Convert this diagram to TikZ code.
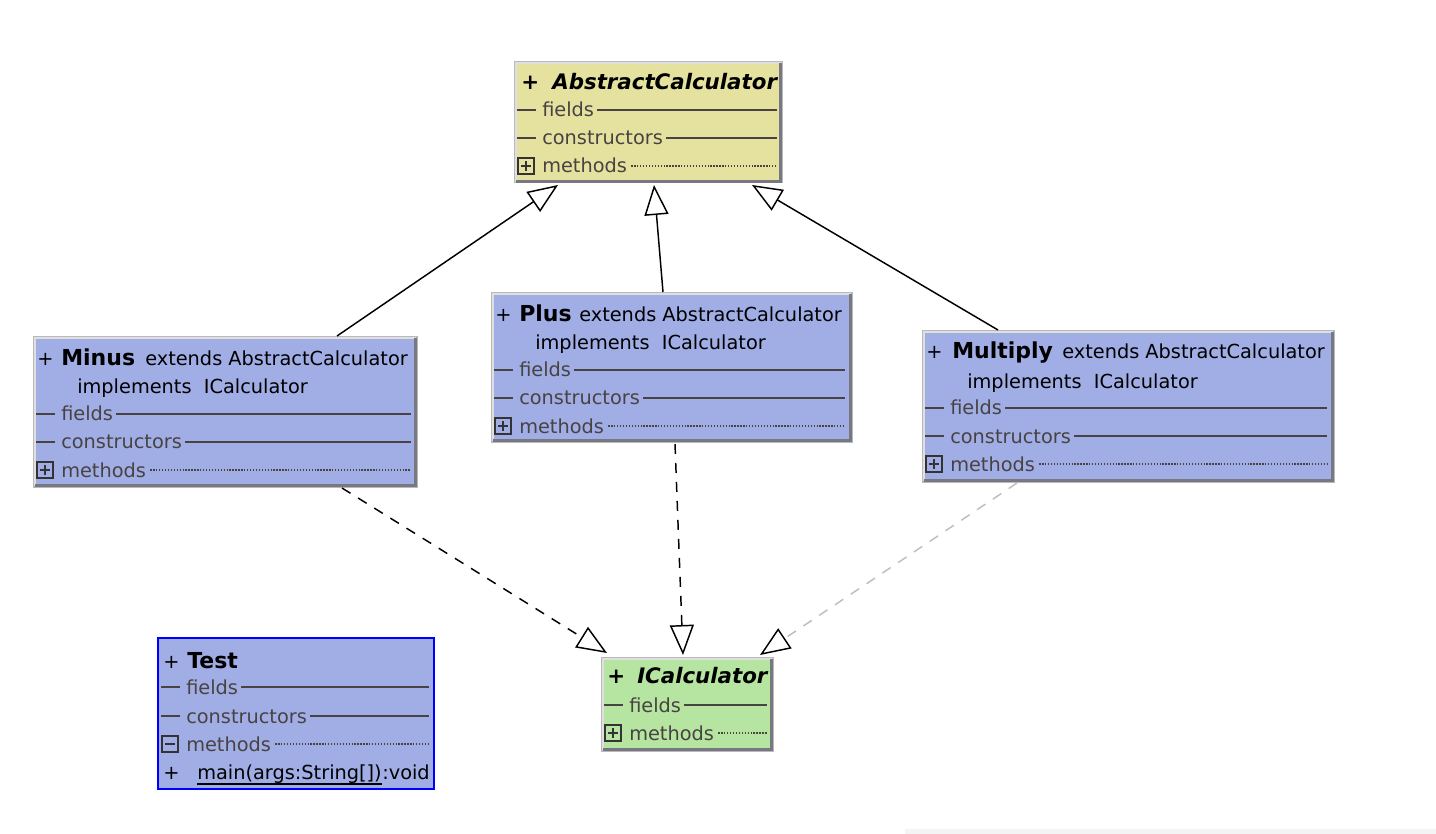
\documentclass[tikz,border=0pt]{standalone}
\usepackage{fontspec}
\setmainfont{DejaVu Sans}
\usetikzlibrary{arrows.meta,fit,calc}
\newdimen\px \px=0.75pt
\definecolor{absfill}{RGB}{229,226,160}
\definecolor{clsfill}{RGB}{160,174,229}
\definecolor{intfill}{RGB}{181,229,160}
\definecolor{rowgray}{RGB}{72,66,66}
\definecolor{lightdash}{RGB}{190,190,190}
\definecolor{edgegray}{RGB}{120,120,130}
\definecolor{floorgray}{RGB}{244,244,244}
\newcommand\seprow[5]{%
  \draw[sep] ({#2+3},#3) -- ({#2+22},#3);
  \node[rowtext] (#1) at ({#2+28},{#3+7}) {#5};
  \draw[sep] ([xshift=3\px,yshift=7\px]#1.base east) -- (#4,#3);
}
\newcommand\methrow[5]{%
  \node[#5] (#1i) at ({#2+12},#3) {};
  \node[rowtext] (#1) at ({#2+28},{#3+7}) {methods};
  \draw[dotsep] ([xshift=4\px,yshift=7\px]#1.base east) -- (#4,#3);
}
\newcommand\umlbox[4]{%
  \node[fit={(#2) (#3)}, inner sep=0pt, outer sep=0pt, fill=#4, draw=gray!55, line width=1\px] (#1) {};
  \draw[draw=white!75!gray, line width=2\px] ([shift={(1.5\px,1.5\px)}]#1.south west) -- ([shift={(1.5\px,-1.5\px)}]#1.north west) -- ([shift={(-1.5\px,-1.5\px)}]#1.north east);
  \draw[draw=edgegray, line width=3\px] ([shift={(-1.5\px,-1.5\px)}]#1.north east) -- ([shift={(-1.5\px,1.5\px)}]#1.south east) -- ([shift={(1.5\px,1.5\px)}]#1.south west);
}
\begin{document}
\begin{tikzpicture}[x=0.75pt,y=-0.75pt,
  rowtext/.style={font=\fontsize{14.5}{16}\selectfont, text=rowgray, inner sep=0pt, anchor=base west},
  plaintext/.style={font=\fontsize{14.5}{16}\selectfont, text=black, inner sep=0pt, anchor=base west},
  nametext/.style={font=\fontsize{16.5}{18}\selectfont\bfseries, text=black, inner sep=0pt, anchor=base west},
  abstext/.style={font=\fontsize{16}{18}\selectfont\bfseries\itshape, text=black, inner sep=0pt, anchor=base west},
  sep/.style={draw=rowgray, line width=1.2pt},
  dotsep/.style={draw=rowgray, line width=1pt, dash pattern=on 1pt off 1.2pt},
  icon/.style={draw=black!80, line width=1.1pt, minimum size=12pt, inner sep=0pt},
  plusicon/.style={icon, path picture={
    \draw[line width=1.3pt] ([xshift=2.4pt]path picture bounding box.west) -- ([xshift=-2.4pt]path picture bounding box.east);
    \draw[line width=1.3pt] ([yshift=-2.4pt]path picture bounding box.north) -- ([yshift=2.4pt]path picture bounding box.south);}},
  minusicon/.style={icon, path picture={
    \draw[line width=1.3pt] ([xshift=2.4pt]path picture bounding box.west) -- ([xshift=-2.4pt]path picture bounding box.east);}},
  gen/.style={line width=1.1pt, -{Triangle[open, length=22.5pt, width=18pt, color=black, fill=white, line width=1.1pt]}},
  real/.style={gen, dash pattern=on 7.5pt off 6.75pt}
]
\useasboundingbox (0,0) rectangle (1436,834);
\fill[floorgray] (905,829) rectangle (1436,834);

% AbstractCalculator
\umlbox{ac}{514,62}{782,183}{absfill}
\node[abstext] (acplus) at (521,90) {+};
\node[abstext] (acname) at (552,90) {AbstractCalculator};
\seprow{acf}{514}{110}{777}{fields}
\seprow{acc}{514}{138}{777}{constructors}
\methrow{acm}{514}{166}{777}{plusicon}

% Minus
\umlbox{mi}{33,337}{417,487}{clsfill}
\node[plaintext] (miplus) at (37,366) {+};
\node[nametext] (miname) at (61,366) {Minus};
\node[plaintext] (miext) at (145,366) {extends AbstractCalculator};
\node[plaintext] (miimp) at (77,393) {implements~~ICalculator};
\seprow{mif}{33}{414}{411}{fields}
\seprow{mic}{33}{442}{411}{constructors}
\methrow{mim}{33}{470}{411}{plusicon}

% Plus
\umlbox{pl}{491,293}{852,442}{clsfill}
\node[plaintext] (plplus) at (495,322) {+};
\node[nametext] (plname) at (519,322) {Plus};
\node[plaintext] (plext) at (579,322) {extends AbstractCalculator};
\node[plaintext] (plimp) at (535,350) {implements~~ICalculator};
\seprow{plf}{491}{370}{845}{fields}
\seprow{plc}{491}{398}{845}{constructors}
\methrow{plm}{491}{426}{845}{plusicon}

% Multiply
\umlbox{mu}{922,331}{1334,482}{clsfill}
\node[plaintext] (muplus) at (926,359) {+};
\node[nametext] (muname) at (952,359) {Multiply};
\node[plaintext] (muext) at (1062,359) {extends AbstractCalculator};
\node[plaintext] (muimp) at (967,388) {implements~~ICalculator};
\seprow{muf}{922}{408}{1327}{fields}
\seprow{muc}{922}{436}{1327}{constructors}
\methrow{mum}{922}{464}{1327}{plusicon}

% Test
\node[fit={(158,638) (434,789)}, inner sep=0pt, outer sep=0pt, fill=clsfill, draw=blue, line width=1.9pt] (te) {};
\node[plaintext] (teplus) at (163,668) {+};
\node[nametext] (tename) at (187,668) {Test};
\seprow{tef}{158}{687}{429}{fields}
\seprow{tec}{158}{716}{429}{constructors}
\methrow{tem}{158}{744}{429}{minusicon}
\node[plaintext] (tembplus) at (163,779) {+};
\node[plaintext] (temain) at (197,779) {main(args:String[])};
\node[plaintext, anchor=base west] (tevoid) at (temain.base east) {:void};
\draw[line width=1.1pt] ([yshift=-3.75pt]temain.base west) -- ([yshift=-3.75pt]temain.base east);

% ICalculator
\umlbox{ic}{601,657}{773,751}{intfill}
\node[abstext] (icplus) at (607,683) {+};
\node[abstext] (icname) at (637,683) {ICalculator};
\seprow{icf}{601}{705}{767}{fields}
\methrow{icm}{601}{733}{767}{plusicon}

% generalizations
\draw[gen] ($(mi.north west)+(304,-1)$) -- ($(ac.south west)+(44,2)$);
\draw[gen] ($(pl.north west)+(172,-1)$) -- ($(ac.south west)+(140,2)$);
\draw[gen] ($(mu.north west)+(76,-1)$) -- ($(ac.south west)+(238,2)$);

% realizations
\draw[real] ($(mi.south west)+(309,1)$) -- ($(ic.north west)+(6,-4)$);
\draw[real] ($(pl.south west)+(184,2)$) -- ($(ic.north west)+(82,-2)$);
\draw[real, draw=lightdash] ($(mu.south west)+(95,1)$) -- ($(ic.north west)+(159,-2)$);
\end{tikzpicture}
\end{document}
